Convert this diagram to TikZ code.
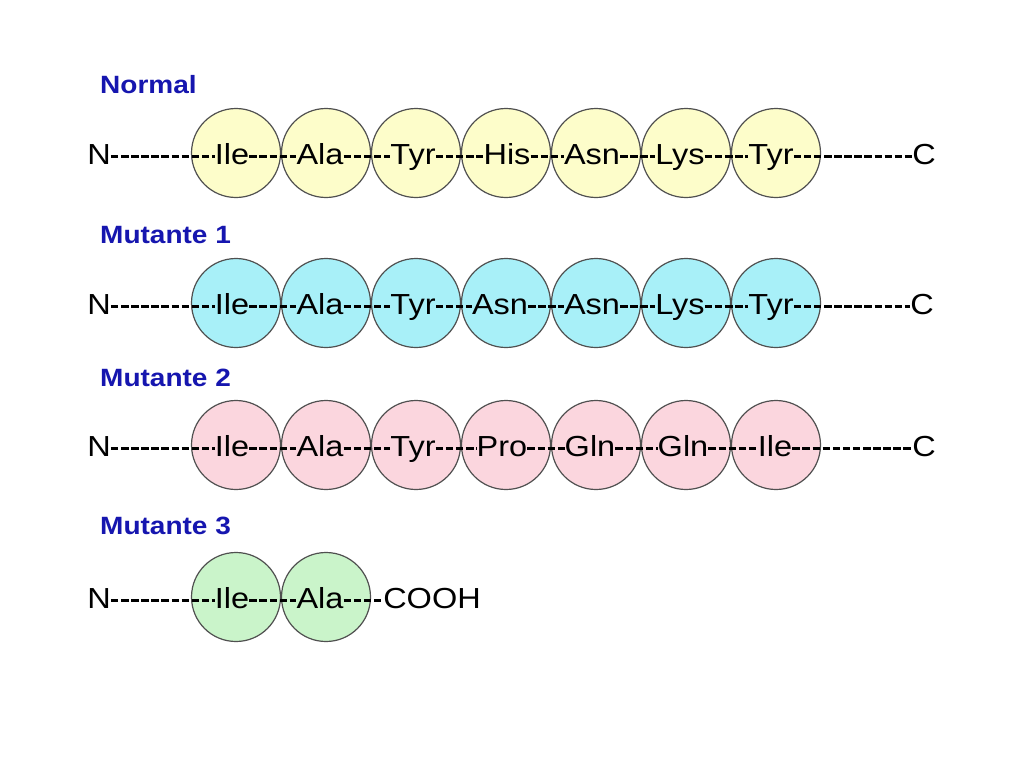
\documentclass[tikz,border=0pt]{standalone}
\usepackage{fontspec}
\newfontfamily\arialf[FakeStretch=1.12]{Liberation Sans}
\newcommand\aafont{\arialf\fontsize{29}{31}\selectfont}
\newcommand\ttlfont{\arialf\bfseries\fontsize{25}{27}\selectfont}
\definecolor{ringgray}{RGB}{80,80,80}
\definecolor{titleblue}{RGB}{22,22,175}
\definecolor{fyellow}{RGB}{253,253,202}
\definecolor{fcyan}{RGB}{168,240,248}
\definecolor{fpink}{RGB}{251,214,222}
\definecolor{fgreen}{RGB}{202,244,202}
\tikzset{
  res/.style={circle, draw=ringgray, line width=1.2pt, minimum size=89pt, inner sep=0pt},
  aa/.style={font=\aafont, inner sep=0pt, anchor=base, text=black},
  bond/.style={line width=2.8pt, dash pattern=on 7.5pt off 2.6pt},
  ttl/.style={font=\ttlfont, text=titleblue, anchor=base west, inner sep=0pt}
}
\newcommand\bondup{7.9pt}
\begin{document}
\begin{tikzpicture}[x=1pt,y=-1pt]
\useasboundingbox[fill=white] (0,0) rectangle (1024,768);

% ---------- titles
\node[ttl] (t0) at (100,93) {Normal};
\node[ttl] (t1) at (100,243) {Mutante 1};
\node[ttl] (t2) at (100,386) {Mutante 2};
\node[ttl] (t3) at (100,534) {Mutante 3};

% ---------- circles
\foreach \i/\x in {1/236,2/326,3/416,4/506,5/596,6/686,7/776}{
  \node[res, fill=fyellow] (a\i) at (\x,153) {};
  \node[res, fill=fcyan]   (b\i) at (\x,303) {};
  \node[res, fill=fpink]   (c\i) at (\x,445) {};
}
\foreach \i/\x in {1/236,2/326}{
  \node[res, fill=fgreen] (d\i) at (\x,597) {};
}

% ---------- row 1 (Normal)
\begin{scope}[every node/.style={aa}]
\node (aN) at (99,164) {N};
\node (aL1) at (232,164) {Ile};
\node (aL2) at (320,164) {Ala};
\node (aL3) at (413,164) {Tyr};
\node (aL4) at (507,164) {His};
\node (aL5) at (592,164) {Asn};
\node (aL6) at (680,164) {Lys};
\node (aL7) at (771,164) {Tyr};
\node (aC) at (924,164) {C};
% row 2
\node (bN) at (99,314) {N};
\node (bL1) at (232,314) {Ile};
\node (bL2) at (320,314) {Ala};
\node (bL3) at (413,314) {Tyr};
\node (bL4) at (500,314) {Asn};
\node (bL5) at (592,314) {Asn};
\node (bL6) at (680,314) {Lys};
\node (bL7) at (771,314) {Tyr};
\node (bC) at (922,314) {C};
% row 3
\node (cN) at (99,456) {N};
\node (cL1) at (232,456) {Ile};
\node (cL2) at (320,456) {Ala};
\node (cL3) at (413,456) {Tyr};
\node (cL4) at (502,456) {Pro};
\node (cL5) at (590,456) {Gln};
\node (cL6) at (683,456) {Gln};
\node (cL7) at (775,456) {Ile};
\node (cC) at (924,456) {C};
% row 4
\node (dN) at (99,608) {N};
\node (dL1) at (232,608) {Ile};
\node (dL2) at (320,608) {Ala};
\node (dC) at (432,608) {COOH};
\end{scope}

% ---------- bonds
\foreach \r in {a,b,c}{
  \draw[bond] ([yshift=\bondup]\r N.base east) -- ([yshift=\bondup]\r L1.base west);
  \foreach \p/\q in {1/2,2/3,3/4,4/5,5/6,6/7}{
    \draw[bond] ([yshift=\bondup]\r L\p.base east) -- ([yshift=\bondup]\r L\q.base west);
  }
  \draw[bond] ([yshift=\bondup]\r L7.base east) -- ([yshift=\bondup]\r C.base west);
}
\draw[bond] ([yshift=\bondup]dN.base east) -- ([yshift=\bondup]dL1.base west);
\draw[bond] ([yshift=\bondup]dL1.base east) -- ([yshift=\bondup]dL2.base west);
\draw[bond] ([yshift=\bondup]dL2.base east) -- ([yshift=\bondup]dC.base west);
\end{tikzpicture}
\end{document}
